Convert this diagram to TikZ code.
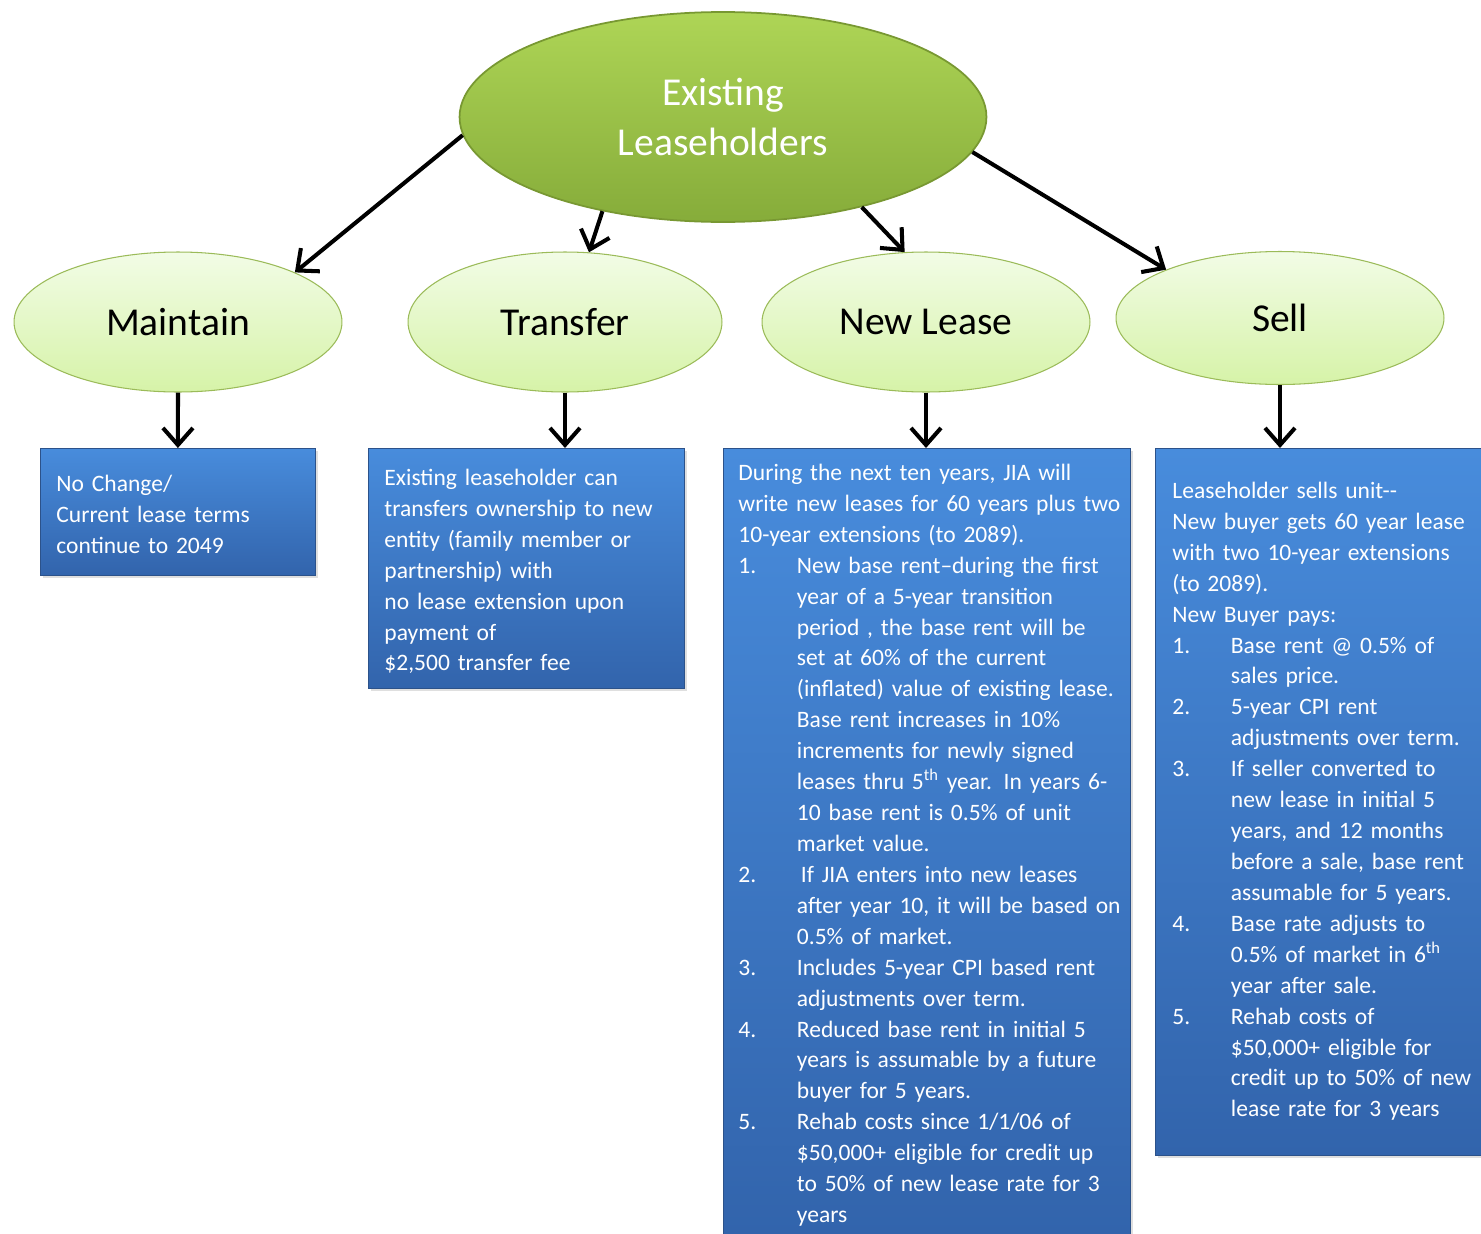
\documentclass[tikz,border=0pt]{standalone}
\usepackage{fontspec}
\setmainfont{Carlito}
\usetikzlibrary{shapes.geometric,arrows.meta,shadows}

\definecolor{rootlight}{RGB}{174,213,86}
\definecolor{rootdark}{RGB}{134,172,58}
\definecolor{rootedge}{RGB}{120,152,50}
\definecolor{optlight}{RGB}{242,252,230}
\definecolor{optdark}{RGB}{214,243,168}
\definecolor{optedge}{RGB}{155,187,89}
\definecolor{boxlight}{RGB}{72,140,220}
\definecolor{boxdark}{RGB}{50,100,172}
\definecolor{boxedge}{RGB}{44,82,138}

\newcommand{\numitem}[2]{\par\hangindent=1.17cm\hangafter=1\makebox[1.17cm][l]{#1}#2\par}

\tikzset{
  rootnode/.style={ellipse, top color=rootlight, bottom color=rootdark, draw=rootedge, line width=1pt,
    minimum width=10.54cm, minimum height=4.2cm, inner sep=0pt, align=center, text=white,
    font=\fontsize{22.5}{28.5}\selectfont},
  headnode/.style={ellipse, top color=optlight, bottom color=optdark, draw=optedge, line width=0.6pt,
    minimum width=6.56cm, minimum height=2.8cm, inner sep=0pt, font=\fontsize{22.5}{27}\selectfont},
  infobox/.style={rectangle, anchor=north west, top color=boxlight, bottom color=boxdark,
    draw=boxedge, line width=0.5pt, drop shadow={opacity=0.25, shadow xshift=0.6mm, shadow yshift=-0.6mm},
    inner xsep=0.32cm, inner ysep=0pt, align=left, text=white, font=\fontsize{13.4}{17.6}\selectfont,
    execute at begin node={\rightskip=-1cm plus 1fil}},
  link/.style={line width=2.3pt, -{Straight Barb[length=3.4mm,width=6mm]}}
}

\begin{document}
\begin{tikzpicture}[x=0.02cm, y=-0.02cm]
\useasboundingbox (0,0) rectangle (1481,1234);

\node[rootnode] (top) at (723,117) {Existing\\Leaseholders};
\node[headnode] (maintain) at (178,322) {Maintain};
\node[headnode, minimum width=6.28cm] (transfer) at (565,322) {Transfer};
\node[headnode] (newlease) at (926,322) {New Lease};
\node[headnode, minimum height=2.66cm] (sell) at (1280,318) {Sell};

\node[infobox, text width=4.86cm, text height=0.86cm, text depth=1.68cm] (nochange) at (40,448)
  {No Change/\newline Current lease terms\newline continue to 2049};
\node[infobox, text width=5.68cm, text height=0.74cm, text depth=4.06cm] (transferbox) at (368,448)
  {Existing leaseholder can\newline transfers ownership to new\newline entity (family member or\newline
   partnership) with\newline no lease extension upon\newline payment of\newline \$2,500 transfer fee};
\node[infobox, inner xsep=0.3cm, text width=7.54cm, text height=0.64cm, text depth=15.08cm] (newleasebox) at (723,448)
  {During the next ten years, JIA will\newline write new leases for 60 years plus two\newline 10-year extensions (to 2089).
   \numitem{1.}{New base rent--during the first\newline year of a 5-year transition\newline period , the base rent will be\newline
     set at 60\% of the current\newline (inflated) value of existing lease.\newline Base rent increases in 10\%\newline
     increments for newly signed\newline leases thru 5\textsuperscript{th} year. In years 6-\newline
     10 base rent is 0.5\% of unit\newline market value.}
   \numitem{2.}{\,If JIA enters into new leases\newline after year 10, it will be based on\newline 0.5\% of market.}
   \numitem{3.}{Includes 5-year CPI based rent\newline adjustments over term.}
   \numitem{4.}{Reduced base rent in initial 5\newline years is assumable by a future\newline buyer for 5 years.}
   \numitem{5.}{Rehab costs since 1/1/06 of\newline \$50,000+ eligible for credit up\newline to 50\% of new lease rate for 3\newline years}};
\node[infobox, inner xsep=0.34cm, text width=6.0cm, text height=1.0cm, text depth=13.14cm] (sellbox) at (1155,448)
  {Leaseholder sells unit-{}-\newline New buyer gets 60 year lease\newline with two 10-year extensions\newline
   (to 2089).\newline New Buyer pays:
   \numitem{1.}{Base rent @ 0.5\% of\newline sales price.}
   \numitem{2.}{5-year CPI rent\newline adjustments over term.}
   \numitem{3.}{If seller converted to\newline new lease in initial 5\newline years, and 12 months\newline
     before a sale, base rent\newline assumable for 5 years.}
   \numitem{4.}{Base rate adjusts to\newline 0.5\% of market in 6\textsuperscript{th}\newline year after sale.}
   \numitem{5.}{Rehab costs of\newline \$50,000+ eligible for\newline credit up to 50\% of new\newline lease rate for 3 years}};

\path[link]
  (top.184) edge (maintain.23)
  (top.218) edge (transfer.71)
  (top.327) edge (newlease.107)
  (top.352) edge (sell.157);
\draw[link] (maintain.south) -- (nochange.north);
\draw[link] (transfer.south) -- (transfer.south |- transferbox.north);
\draw[link] (newlease.south) -- (newlease.south |- newleasebox.north);
\draw[link] (sell.south) -- (sell.south |- sellbox.north);
\end{tikzpicture}
\end{document}
